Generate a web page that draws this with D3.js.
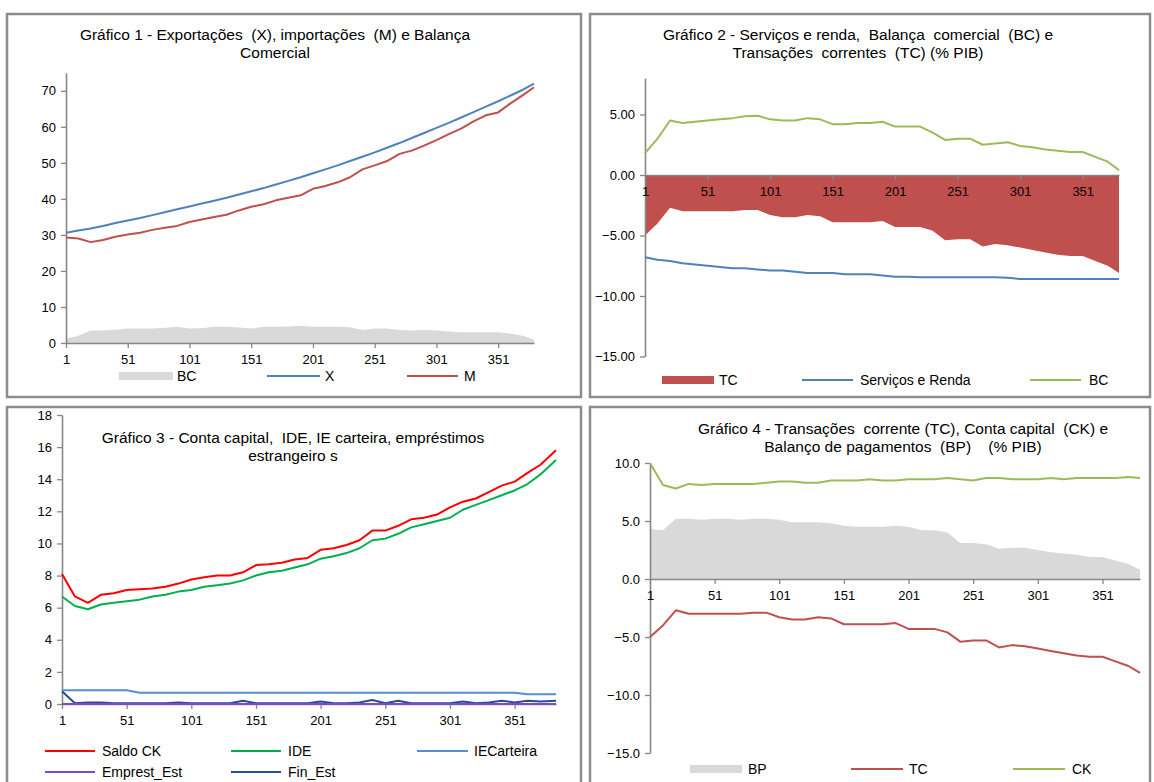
<!DOCTYPE html>
<html>
<head>
<meta charset="utf-8">
<script src="https://cdn.jsdelivr.net/npm/d3@7"></script>
<style>
body { margin: 0; background: #fff; }
text { font-family: "Liberation Sans", Arial, sans-serif; fill: #000; }
</style>
</head>
<body>
<svg id="fig" width="1154" height="782"></svg>
<script>
const obs = [1,11,21,31,41,51,61,71,81,91,101,111,121,131,141,151,161,171,181,191,201,211,221,231,241,251,261,271,281,291,301,311,321,331,341,351,361,371,380];
const obs3 = [1,11,21,31,41,51,61,71,81,91,101,111,121,131,141,151,161,171,181,191,201,211,221,231,241,251,261,271,281,291,301,311,321,331,341,351,361,371,383];
const xTicks = [1,51,101,151,201,251,301,351];

// Gráfico 1
const X = [30.6,31.2,31.8,32.5,33.3,34.0,34.7,35.5,36.3,37.1,37.9,38.7,39.5,40.3,41.2,42.1,43.0,44.0,45.0,46.0,47.1,48.2,49.3,50.5,51.7,52.9,54.2,55.5,56.9,58.3,59.7,61.1,62.6,64.1,65.6,67.1,68.7,70.3,72.0];
const M = [29.3,29.0,28.0,28.6,29.5,30.1,30.6,31.4,32.0,32.5,33.6,34.3,35.0,35.6,36.8,37.8,38.5,39.6,40.3,41.0,42.8,43.6,44.6,46.0,48.2,49.3,50.5,52.5,53.4,54.8,56.3,58.0,59.5,61.5,63.2,64.0,66.5,68.8,71.0];
const BC1 = [1.2,2.0,3.5,3.5,3.7,4.0,4.0,4.0,4.2,4.5,4.0,4.1,4.5,4.5,4.3,4.0,4.5,4.5,4.6,4.8,4.5,4.5,4.5,4.4,3.6,4.0,4.0,3.6,3.5,3.6,3.5,3.2,3.0,3.0,3.0,3.0,2.6,2.0,0.9];

// Gráfico 2 (% PIB)
const TC = [-5.0,-4.0,-2.7,-3.0,-3.0,-3.0,-3.0,-3.0,-2.9,-2.9,-3.3,-3.5,-3.5,-3.3,-3.4,-3.9,-3.9,-3.9,-3.9,-3.8,-4.3,-4.3,-4.3,-4.6,-5.4,-5.3,-5.3,-5.9,-5.7,-5.8,-6.0,-6.2,-6.4,-6.6,-6.7,-6.7,-7.1,-7.5,-8.1];
const servRenda = [-6.8,-7.0,-7.1,-7.3,-7.4,-7.5,-7.6,-7.7,-7.7,-7.8,-7.9,-7.9,-8.0,-8.1,-8.1,-8.1,-8.2,-8.2,-8.2,-8.3,-8.4,-8.4,-8.45,-8.45,-8.45,-8.45,-8.45,-8.45,-8.45,-8.5,-8.6,-8.6,-8.6,-8.6,-8.6,-8.6,-8.6,-8.6,-8.6];
const BC2 = [1.8,3.0,4.5,4.3,4.4,4.5,4.6,4.7,4.85,4.9,4.6,4.5,4.5,4.7,4.6,4.2,4.2,4.3,4.3,4.4,4.0,4.0,4.0,3.5,2.9,3.0,3.0,2.5,2.6,2.7,2.4,2.3,2.1,2.0,1.9,1.9,1.5,1.1,0.4];

// Gráfico 3
const saldoCK = [8.1,6.7,6.3,6.8,6.9,7.1,7.15,7.2,7.3,7.5,7.75,7.9,8.0,8.0,8.2,8.65,8.7,8.8,9.0,9.1,9.6,9.7,9.9,10.2,10.8,10.8,11.1,11.5,11.6,11.8,12.25,12.6,12.8,13.2,13.6,13.85,14.4,14.9,15.8];
const IDE = [6.7,6.1,5.9,6.2,6.3,6.4,6.5,6.7,6.8,7.0,7.1,7.3,7.4,7.5,7.7,8.0,8.2,8.3,8.5,8.7,9.05,9.2,9.4,9.7,10.2,10.3,10.6,11.0,11.2,11.4,11.6,12.1,12.4,12.7,13.0,13.3,13.7,14.3,15.2];
const IECarteira = [0.85,0.85,0.85,0.85,0.85,0.85,0.7,0.7,0.7,0.7,0.7,0.7,0.7,0.7,0.7,0.7,0.7,0.7,0.7,0.7,0.7,0.7,0.7,0.7,0.7,0.7,0.7,0.7,0.7,0.7,0.7,0.7,0.7,0.7,0.7,0.7,0.6,0.6,0.6];
const emprestEst = [0,0,0,0,0,0,0,0,0,0,0,0,0,0,0,0,0,0,0,0,0,0,0,0,0,0,0,0,0,0,0,0,0,0,0,0,0,0,0];
const finEst = [0.8,0.05,0.1,0.1,0.05,0.05,0.05,0.05,0.05,0.1,0.05,0.05,0.05,0.05,0.2,0.05,0.05,0.05,0.05,0.05,0.15,0.05,0.05,0.1,0.25,0.05,0.2,0.05,0.05,0.05,0.05,0.15,0.05,0.1,0.2,0.1,0.2,0.15,0.2];

// Gráfico 4 (% PIB)
const BP = [4.3,4.2,5.2,5.2,5.1,5.2,5.2,5.1,5.2,5.2,5.1,4.9,4.9,4.9,4.8,4.6,4.5,4.5,4.5,4.6,4.5,4.2,4.2,4.0,3.1,3.1,3.0,2.6,2.7,2.7,2.5,2.3,2.2,2.1,1.9,1.9,1.6,1.3,0.8];
const CK = [10.0,8.1,7.8,8.2,8.1,8.2,8.2,8.2,8.2,8.3,8.4,8.4,8.3,8.3,8.5,8.5,8.5,8.6,8.5,8.5,8.6,8.6,8.6,8.7,8.6,8.5,8.7,8.7,8.6,8.6,8.6,8.7,8.6,8.7,8.7,8.7,8.7,8.8,8.7];

const svg = d3.select("#fig");
const AXIS = "#878787";

function panel(o) {
    const g = svg.append("g");

    // frame
    g.append("rect")
        .attr("x", o.frame[0]).attr("y", o.frame[1])
        .attr("width", o.frame[2]).attr("height", o.frame[3])
        .attr("fill", "none").attr("stroke", "#8c8c8c").attr("stroke-width", 2.5);

    // title
    o.title.forEach((t, i) => {
        g.append("text")
            .attr("x", o.titleX).attr("y", o.titleY + i * 18)
            .attr("text-anchor", "middle")
            .style("font-size", "15.5px").style("white-space", "pre")
            .text(t);
    });

    const idx = o.obs;
    const n = idx.length;
    const x = d3.scaleLinear().domain([1, idx[n - 1]]).range(o.xr);
    const y = d3.scaleLinear().domain(o.yd).range(o.yr);

    // columns: dense columns drawn as a filled silhouette
    (o.bars || []).forEach(b => {
        const area = d3.area()
            .x((d, i) => x(idx[i]))
            .y0(y(0))
            .y1(d => y(d));
        g.append("path")
            .attr("d", area(b.values))
            .attr("fill", b.color);
    });

    // y axis
    const ya = g.append("g")
        .attr("transform", `translate(${o.xr[0]},0)`)
        .call(d3.axisLeft(y).tickValues(o.yTicks).tickFormat(o.fmt).tickSize(5).tickSizeOuter(0).tickPadding(5));

    // x axis on the zero line
    const xa = g.append("g")
        .attr("transform", `translate(0,${y(0)})`)
        .call(d3.axisBottom(x).tickValues(xTicks).tickSize(5).tickSizeOuter(0).tickPadding(7));

    [ya, xa].forEach(a => {
        a.select(".domain").attr("stroke", AXIS).attr("stroke-width", 1.6);
        a.selectAll(".tick line").attr("stroke", AXIS).attr("stroke-width", 1.3);
        a.selectAll("text").style("font-size", "13px").style("font-family", '"Liberation Sans", Arial, sans-serif').attr("fill", "#000");
    });

    // lines
    const line = vals => d3.line().x((d, i) => x(idx[i])).y(d => y(d))(vals);
    (o.lines || []).forEach(l => {
        g.append("path")
            .attr("d", line(l.values))
            .attr("fill", "none")
            .attr("stroke", l.color)
            .attr("stroke-width", 2)
            .attr("stroke-linejoin", "round");
    });

    // legend
    o.legend.forEach(it => {
        if (it.type === "rect") {
            g.append("rect")
                .attr("x", it.x).attr("y", it.y - 4)
                .attr("width", it.w).attr("height", 8)
                .attr("fill", it.color);
        } else {
            g.append("line")
                .attr("x1", it.x).attr("x2", it.x + it.w)
                .attr("y1", it.y).attr("y2", it.y)
                .attr("stroke", it.color).attr("stroke-width", 2.2);
        }
        g.append("text")
            .attr("x", it.lx).attr("y", it.y)
            .attr("dy", "0.35em")
            .style("font-size", "14px")
            .text(it.label);
    });
}

// Gráfico 1
panel({
    frame: [7, 14, 574, 383],
    title: ["Gráfico 1 - Exportações  (X), importações  (M) e Balança", "Comercial"],
    titleX: 275, titleY: 40,
    obs: obs, xr: [66, 534],
    yd: [0, 75], yr: [343, 72.8],
    yTicks: [0, 10, 20, 30, 40, 50, 60, 70], fmt: d3.format("d"),
    bars: [{ values: BC1, color: "#d9d9d9" }],
    lines: [{ values: X, color: "#4f81bd" }, { values: M, color: "#c0504d" }],
    legend: [
        { type: "rect", x: 119, w: 54, y: 376, color: "#d9d9d9", lx: 177, label: "BC" },
        { type: "line", x: 267, w: 53, y: 376, color: "#4f81bd", lx: 325, label: "X" },
        { type: "line", x: 407, w: 51, y: 376, color: "#c0504d", lx: 464, label: "M" }
    ]
});

// Gráfico 2
panel({
    frame: [590, 14, 560, 383],
    title: ["Gráfico 2 - Serviços e renda,  Balança  comercial  (BC) e", "Transações  correntes  (TC) (% PIB)"],
    titleX: 858, titleY: 40,
    obs: obs, xr: [645, 1119],
    yd: [-15, 8], yr: [356.5, 78.2],
    yTicks: [-15, -10, -5, 0, 5], fmt: d3.format(".2f"),
    bars: [{ values: TC, color: "#c0504d" }],
    lines: [{ values: servRenda, color: "#4f81bd" }, { values: BC2, color: "#9bbb59" }],
    legend: [
        { type: "rect", x: 662, w: 52, y: 380, color: "#c0504d", lx: 719, label: "TC" },
        { type: "line", x: 802, w: 51, y: 380, color: "#4f81bd", lx: 860, label: "Serviços e Renda" },
        { type: "line", x: 1030, w: 51, y: 380, color: "#9bbb59", lx: 1089, label: "BC" }
    ]
});

// Gráfico 3
panel({
    frame: [7, 407, 574, 400],
    title: ["Gráfico 3 - Conta capital,  IDE, IE carteira, empréstimos", "estrangeiro s"],
    titleX: 293, titleY: 443,
    obs: obs3, xr: [62, 556],
    yd: [0, 18], yr: [704, 415],
    yTicks: [0, 2, 4, 6, 8, 10, 12, 14, 16, 18], fmt: d3.format("d"),
    lines: [
        { values: IECarteira, color: "#558ed5" },
        { values: finEst, color: "#2a4b9b" },
        { values: emprestEst, color: "#7f48c4" },
        { values: IDE, color: "#00b050" },
        { values: saldoCK, color: "#ff0000" }
    ],
    legend: [
        { type: "line", x: 45, w: 50, y: 751, color: "#ff0000", lx: 102, label: "Saldo CK" },
        { type: "line", x: 231, w: 50, y: 751, color: "#00b050", lx: 288, label: "IDE" },
        { type: "line", x: 417, w: 51, y: 751, color: "#558ed5", lx: 474, label: "IECarteira" },
        { type: "line", x: 45, w: 50, y: 772, color: "#7f48c4", lx: 102, label: "Emprest_Est" },
        { type: "line", x: 231, w: 50, y: 772, color: "#2a4b9b", lx: 288, label: "Fin_Est" }
    ]
});

// Gráfico 4
panel({
    frame: [590, 407, 560, 400],
    title: ["Gráfico 4 - Transações  corrente (TC), Conta capital  (CK) e", "Balanço de pagamentos  (BP)    (% PIB)"],
    titleX: 903, titleY: 434,
    obs: obs, xr: [650, 1140],
    yd: [-15, 10], yr: [753, 463],
    yTicks: [-15, -10, -5, 0, 5, 10], fmt: d3.format(".1f"),
    bars: [{ values: BP, color: "#d9d9d9" }],
    lines: [{ values: TC, color: "#c0504d" }, { values: CK, color: "#9bbb59" }],
    legend: [
        { type: "rect", x: 690, w: 52, y: 769, color: "#d9d9d9", lx: 748, label: "BP" },
        { type: "line", x: 851, w: 52, y: 769, color: "#c0504d", lx: 909, label: "TC" },
        { type: "line", x: 1013, w: 52, y: 769, color: "#9bbb59", lx: 1072, label: "CK" }
    ]
});
</script>
</body>
</html>
